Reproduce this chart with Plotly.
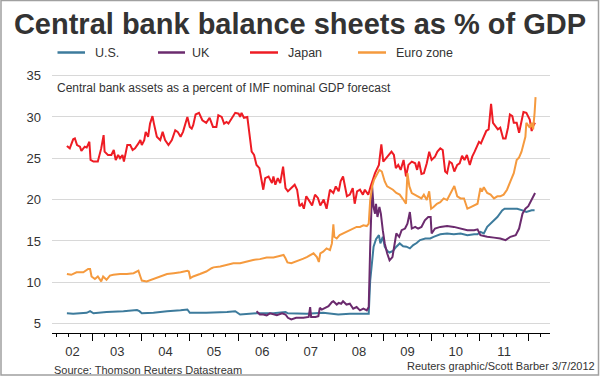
import datetime as dt
import plotly.graph_objects as go

# ---------------- data (decimal year, % of GDP) ----------------
us_t = [2002.46, 2002.59, 2002.87, 2002.94, 2003.01, 2003.28, 2003.63, 2003.91, 2003.96, 2004.01, 2004.25, 2004.53,
        2004.81, 2004.95, 2005.00, 2005.34, 2005.77, 2005.94, 2006.04, 2006.38, 2006.73, 2006.98, 2007.03, 2007.42,
        2007.76, 2007.90, 2008.07, 2008.31, 2008.70, 2008.73, 2008.77, 2008.80, 2008.85, 2008.91, 2008.94, 2008.99,
        2009.03, 2009.08, 2009.13, 2009.20, 2009.27, 2009.34, 2009.41, 2009.48, 2009.55, 2009.62, 2009.69, 2009.76,
        2009.87, 2009.97, 2010.04, 2010.18, 2010.32, 2010.46, 2010.60, 2010.74, 2010.88, 2010.95, 2011.01, 2011.08,
        2011.15, 2011.25, 2011.36, 2011.46, 2011.51, 2011.63, 2011.77, 2011.88, 2011.96, 2012.07, 2012.13]
us_v = [6.24, 6.2, 6.3, 6.5, 6.24, 6.4, 6.5, 6.64, 6.5, 6.24, 6.3, 6.5,
        6.6, 6.7, 6.3, 6.3, 6.4, 6.5, 6.1, 6.24, 6.24, 6.4, 6.24, 6.2,
        6.3, 6.2, 6.1, 6.2, 6.2, 10.2, 12.65, 14.3, 15.2, 15.7, 14.7, 15.5,
        14.3, 13.8, 13.6, 13.8, 14.3, 14.7, 14.35, 14.3, 14.1, 14.5, 14.75, 15.1,
        15.3, 15.3, 15.5, 15.8, 15.9, 15.8, 15.9, 15.7, 15.8, 15.8, 16.1, 15.9,
        16.7, 17.3, 17.9, 18.7, 18.9, 18.9, 18.9, 18.7, 18.5, 18.7, 18.7]

uk_t = [2006.38, 2006.45, 2006.52, 2006.59, 2006.66, 2006.73, 2006.80, 2006.91, 2006.98,
        2007.03, 2007.10, 2007.20, 2007.35, 2007.46, 2007.49, 2007.51, 2007.60, 2007.66, 2007.69, 2007.73, 2007.80,
        2007.87, 2007.94, 2007.97,
        2008.04, 2008.08, 2008.13, 2008.17, 2008.24, 2008.31, 2008.38, 2008.45, 2008.52, 2008.59, 2008.66, 2008.70,
        2008.73, 2008.77, 2008.80, 2008.83, 2008.85, 2008.88, 2008.92, 2008.95, 2008.99,
        2009.03, 2009.08, 2009.13, 2009.19, 2009.24, 2009.27, 2009.33, 2009.38, 2009.45, 2009.50, 2009.55, 2009.59,
        2009.66, 2009.72, 2009.79, 2009.86, 2009.93, 2009.98,
        2010.00, 2010.07, 2010.18, 2010.32, 2010.46, 2010.60, 2010.74, 2010.88, 2010.95,
        2011.01, 2011.15, 2011.29, 2011.42, 2011.53, 2011.63, 2011.74, 2011.81, 2011.88, 2011.94,
        2012.00, 2012.07, 2012.12, 2012.14]
uk_v = [6.5, 6.1, 6.1, 6.0, 6.24, 6.1, 6.0, 6.24, 6.1,
        5.7, 5.5, 5.7, 5.7, 5.8, 7.0, 5.8, 5.8, 5.9, 6.9, 6.7, 6.9, 7.1, 7.6, 7.7,
        7.3, 7.5, 7.4, 7.7, 7.3, 7.4, 6.8, 7.0, 6.6, 6.8, 6.6, 7.0, 14.3, 21.6, 19.1, 18.3, 19.5, 17.9, 19.1, 18.3, 16.3,
        14.7, 13.5, 12.65, 13.05, 15.1, 15.9, 15.5, 16.3, 16.5, 17.1, 18.5, 16.5, 16.7, 16.5, 16.7, 17.5, 17.9, 17.9,
        15.9, 16.5, 16.7, 16.8, 16.7, 16.5, 16.3, 16.3, 16.4,
        15.7, 15.5, 15.4, 15.3, 15.1, 15.5, 15.7, 16.5, 18.3, 18.9,
        19.2, 19.95, 20.6, 20.8]

japan_t = [2002.46, 2002.52, 2002.59, 2002.625, 2002.67, 2002.73, 2002.76, 2002.83, 2002.87, 2002.925,
           2002.95, 2003.01, 2003.10, 2003.14, 2003.17, 2003.22, 2003.24, 2003.31, 2003.38, 2003.43,
           2003.47, 2003.52, 2003.56, 2003.61, 2003.64, 2003.71, 2003.77, 2003.82, 2003.87, 2003.94,
           2003.98, 2004.01, 2004.06, 2004.09, 2004.14, 2004.18, 2004.23, 2004.26, 2004.32, 2004.39,
           2004.44, 2004.49, 2004.56, 2004.63, 2004.70, 2004.75, 2004.81, 2004.86, 2004.95, 2005.00,
           2005.04, 2005.07, 2005.12, 2005.19, 2005.26, 2005.34, 2005.41, 2005.48, 2005.55, 2005.59,
           2005.66, 2005.71, 2005.76, 2005.80, 2005.87, 2005.94, 2006.01, 2006.04, 2006.07, 2006.12,
           2006.19, 2006.23, 2006.28, 2006.33, 2006.38, 2006.44, 2006.49, 2006.52, 2006.56, 2006.63,
           2006.70, 2006.73, 2006.77, 2006.82, 2006.87, 2006.93, 2006.98, 2007.03, 2007.10, 2007.17,
           2007.22, 2007.27, 2007.32, 2007.36, 2007.41, 2007.46, 2007.53, 2007.59, 2007.65, 2007.70,
           2007.77, 2007.83, 2007.90, 2007.97, 2008.02, 2008.08, 2008.12, 2008.17, 2008.20, 2008.25,
           2008.31, 2008.37, 2008.41, 2008.46, 2008.52, 2008.58, 2008.62, 2008.69, 2008.74, 2008.78,
           2008.83, 2008.91, 2008.96, 2009.00, 2009.06, 2009.13, 2009.17, 2009.22, 2009.26, 2009.31,
           2009.36, 2009.42, 2009.47, 2009.52, 2009.59, 2009.66, 2009.70, 2009.74, 2009.79, 2009.84,
           2009.90, 2009.95, 2010.00, 2010.07, 2010.12, 2010.18, 2010.23, 2010.28, 2010.32, 2010.37,
           2010.42, 2010.47, 2010.53, 2010.58, 2010.63, 2010.68, 2010.73, 2010.79, 2010.84, 2010.89,
           2010.93, 2010.98, 2011.02, 2011.07, 2011.13, 2011.18, 2011.23, 2011.27, 2011.32, 2011.37,
           2011.42, 2011.48, 2011.53, 2011.58, 2011.62, 2011.67, 2011.70, 2011.76, 2011.81, 2011.86,
           2011.90, 2011.96, 2012.00, 2012.03, 2012.07, 2012.10, 2012.14]
japan_v = [26.5, 26.2, 27.3, 27.4, 26.6, 26.4, 25.9, 26.4, 26.3, 27.0,
           24.8, 24.6, 24.6, 25.4, 26.2, 27.8, 25.8, 25.4, 25.4, 26.0,
           24.8, 25.4, 25.0, 25.4, 24.6, 26.6, 26.6, 26.0, 26.2, 26.8,
           27.2, 26.6, 27.2, 28.2, 27.6, 29.2, 30.1, 29.2, 27.6, 27.2,
           28.2, 27.2, 26.6, 27.2, 28.4, 28.2, 27.6, 28.2, 30.0, 28.8,
           28.6, 29.0, 30.3, 30.5, 29.6, 29.3, 29.9, 28.8, 28.8, 30.2,
           30.0, 29.2, 29.4, 29.2, 29.8, 30.5, 30.4, 30.0, 30.5, 29.9,
           30.0, 28.4, 25.8, 25.4, 24.2, 23.8, 22.4, 21.2, 22.6, 22.8,
           22.0, 22.8, 21.8, 22.6, 22.0, 24.0, 21.4, 21.0, 21.4, 21.8,
           21.2, 19.2, 19.5, 18.9, 20.4, 20.0, 19.3, 20.6, 20.2, 19.3,
           20.0, 18.9, 21.2, 20.8, 21.6, 21.0, 22.2, 22.8, 21.8, 20.4,
           20.6, 21.4, 19.5, 21.0, 21.2, 20.6, 21.2, 20.6, 21.6, 22.4,
           23.2, 24.2, 26.7, 24.6, 25.0, 25.6, 25.8, 25.4, 23.8, 24.2,
           23.6, 24.8, 22.8, 24.2, 24.6, 24.4, 23.6, 24.6, 23.1, 23.2,
           24.4, 25.8, 24.8, 25.2, 25.8, 26.2, 26.0, 23.4, 23.2, 24.6,
           24.4, 23.4, 24.2, 24.4, 25.3, 24.8, 25.4, 24.2, 25.2, 25.8,
           26.4, 27.0, 26.8, 27.6, 28.3, 28.5, 31.6, 29.3, 28.9, 28.5,
           28.7, 27.4, 27.4, 28.7, 30.3, 30.1, 29.3, 29.3, 28.1, 29.5,
           30.6, 30.5, 30.1, 29.7, 28.3, 28.9, 29.3]

euro_t = [2002.46, 2002.55, 2002.66, 2002.80, 2002.90, 2002.94, 2002.97,
          2003.04, 2003.10, 2003.17, 2003.21, 2003.28, 2003.35, 2003.42, 2003.56, 2003.70, 2003.84, 2003.91, 2003.94,
          2003.98,
          2004.01, 2004.11, 2004.25, 2004.39, 2004.53, 2004.67, 2004.81, 2004.95, 2004.98,
          2005.01, 2005.07, 2005.21, 2005.34, 2005.45, 2005.49, 2005.63, 2005.77, 2005.90,
          2006.04, 2006.17, 2006.31, 2006.45, 2006.59, 2006.73, 2006.87, 2006.94, 2006.98,
          2007.02, 2007.10, 2007.20, 2007.28, 2007.35, 2007.42, 2007.49, 2007.56, 2007.63, 2007.67, 2007.70, 2007.76,
          2007.83, 2007.90, 2007.94, 2007.97, 2007.99,
          2008.04, 2008.10, 2008.17, 2008.24, 2008.31, 2008.38, 2008.45, 2008.52, 2008.59, 2008.66, 2008.70, 2008.73,
          2008.77, 2008.81, 2008.87, 2008.92, 2008.97,
          2009.00, 2009.03, 2009.08, 2009.13, 2009.20, 2009.27, 2009.34, 2009.42, 2009.47, 2009.50, 2009.54, 2009.59,
          2009.66, 2009.72, 2009.79, 2009.84, 2009.90, 2009.95, 2009.99,
          2010.04, 2010.11, 2010.18, 2010.25, 2010.32, 2010.39, 2010.45, 2010.47, 2010.53, 2010.60, 2010.67, 2010.74,
          2010.81, 2010.88, 2010.95,
          2011.01, 2011.04, 2011.08, 2011.15, 2011.22, 2011.29, 2011.36, 2011.42, 2011.49, 2011.56, 2011.63, 2011.70,
          2011.76, 2011.81, 2011.86, 2011.90, 2011.94, 2011.96,
          2012.00, 2012.03, 2012.07, 2012.10, 2012.13, 2012.15]
euro_v = [11.0, 10.9, 11.2, 11.2, 11.6, 11.6, 10.7,
          10.4, 10.7, 10.1, 10.7, 10.3, 10.8, 10.9, 11.0, 11.0, 11.1, 11.3, 11.4, 10.7,
          10.2, 10.1, 10.4, 10.7, 11.0, 11.1, 11.2, 11.4, 11.3,
          10.5, 10.7, 11.0, 11.3, 11.7, 11.8, 11.9, 12.1, 12.3,
          12.3, 12.5, 12.7, 12.8, 13.0, 13.0, 13.2, 13.3, 12.9,
          12.4, 12.3, 12.5, 12.65, 12.85, 13.05, 13.25, 13.5, 13.05, 12.45, 13.5, 13.7, 14.1, 13.9, 14.7, 17.0, 15.5,
          15.3, 15.7, 15.9, 16.1, 16.3, 16.5, 16.7, 16.7, 16.9, 16.8, 17.1, 19.95, 21.6, 22.4, 23.0, 23.6, 23.4,
          22.6, 22.2, 21.6, 21.4, 21.2, 20.8, 20.6, 19.95, 19.5, 23.2, 21.6, 20.8, 20.6, 20.4, 20.15, 20.6, 19.95,
          21.0, 18.9,
          19.1, 19.5, 19.7, 20.15, 19.95, 20.8, 21.6, 21.65, 20.4, 20.15, 20.15, 18.9, 19.1, 19.3, 19.5,
          21.4, 20.96, 21.5, 20.8, 20.6, 20.15, 20.4, 20.4, 20.6, 21.2, 22.2, 23.2, 24.8, 25.1, 25.8, 26.6, 27.6, 29.3,
          28.9, 28.7, 29.3, 28.5, 30.5, 32.4]

series_names = ["U.S.", "UK", "Japan", "Euro zone"]
series_colors = ["#3d7b9c", "#6b2b6e", "#ee1c24", "#f59a3e"]
y_ticks = [5, 10, 15, 20, 25, 30, 35]
x_label_years = [2002.576, 2003.5, 2004.5, 2005.5, 2006.5, 2007.5, 2008.5, 2009.5, 2010.5, 2011.5]
x_label_text = ["02", "03", "04", "05", "06", "07", "08", "09", "10", "11"]
title_text = "Central bank balance sheets as % of GDP"
subtitle_text = "Central bank assets as a percent of IMF nominal GDP forecast"
source_text = "Source: Thomson Reuters Datastream"
credit_text = "Reuters graphic/Scott Barber 3/7/2012"


def to_date(t):
    year = int(t)
    start = dt.datetime(year, 1, 1)
    end = dt.datetime(year + 1, 1, 1)
    return start + (end - start) * (t - year)


FONT = "Liberation Sans, Arial, sans-serif"
W, H = 600, 376
ML, MR, MT, MB = 52, 50, 74, 43
PW, PH = W - ML - MR, H - MT - MB
X_RANGE = [to_date(2002.152), to_date(2012.448)]


def px_x(px):
    return (px - ML) / PW


def px_y(py):
    return (H - MB - py) / PH


fig = go.Figure()
all_series = [(us_t, us_v), (uk_t, uk_v), (japan_t, japan_v), (euro_t, euro_v)]
for (ts, vs), name, col in zip(all_series, series_names, series_colors):
    fig.add_trace(go.Scatter(
        x=[to_date(t) for t in ts], y=vs, mode="lines", name=name,
        line=dict(color=col, width=2), showlegend=False, hoverinfo="skip"))

# invisible helper trace on the label axis (year labels centred between year ticks)
fig.add_trace(go.Scatter(x=[to_date(x_label_years[0])], y=[None], xaxis="x2",
                         mode="lines", showlegend=False, hoverinfo="skip"))

fig.update_layout(
    width=W, height=H,
    margin=dict(l=ML, r=MR, t=MT, b=MB, autoexpand=False),
    paper_bgcolor="white", plot_bgcolor="white",
    showlegend=False,
    title=dict(text=title_text, x=0.5, xref="container", xanchor="center",
               y=1 - 24 / H, yref="container", yanchor="middle",
               font=dict(family=FONT, size=29, color="#333333", weight="bold")),
    xaxis=dict(type="date", range=X_RANGE,
               tick0="2002-01-01", dtick="M12", showticklabels=False,
               ticks="outside", ticklen=7, tickwidth=1, tickcolor="#000000",
               minor=dict(dtick="M3", ticks="outside", ticklen=3, tickwidth=1, tickcolor="#000000", showgrid=False),
               showline=True, linecolor="#000000", linewidth=1,
               showgrid=False, zeroline=False),
    xaxis2=dict(type="date", range=X_RANGE, overlaying="x", side="bottom", anchor="y",
                tickvals=[to_date(t) for t in x_label_years], ticktext=x_label_text,
                ticks="", ticklabelstandoff=9, showline=False, showgrid=False, zeroline=False,
                tickfont=dict(family=FONT, size=13, color="#333333")),
    yaxis=dict(range=[3.86, 35.2], tickvals=y_ticks, ticks="", ticklabelstandoff=10,
               showgrid=True, gridcolor="#d8d8d8", gridwidth=1, zeroline=False, showline=False,
               tickfont=dict(family=FONT, size=13, color="#333333")),
)

# legend: colour sample + name
legend_sample_px = [(57.5, 85), (158, 185), (250, 278), (358, 386)]
legend_text_px = [93, 190, 286, 394]
for name, col, (s0, s1), tx in zip(series_names, series_colors, legend_sample_px, legend_text_px):
    fig.add_shape(type="line", xref="paper", yref="paper",
                  x0=px_x(s0), x1=px_x(s1), y0=px_y(52.5), y1=px_y(52.5),
                  line=dict(color=col, width=2.5))
    fig.add_annotation(text=name, xref="paper", yref="paper", x=px_x(tx), y=px_y(52.5),
                       xanchor="left", yanchor="middle", showarrow=False,
                       font=dict(family=FONT, size=12.5, color="#333333"))

fig.add_annotation(text=subtitle_text, xref="paper", yref="paper",
                   x=px_x(55), y=px_y(88), xanchor="left", yanchor="middle",
                   showarrow=False, font=dict(family=FONT, size=12, color="#333333"))
fig.add_annotation(text=source_text, xref="paper", yref="paper",
                   x=0, y=px_y(370), xanchor="left", yanchor="middle",
                   showarrow=False, font=dict(family=FONT, size=11, color="#333333"))
fig.add_annotation(text=credit_text, xref="paper", yref="paper",
                   x=px_x(597), y=px_y(366), xanchor="right", yanchor="middle",
                   showarrow=False, font=dict(family=FONT, size=11, color="#333333"))

# outer grey frame of the graphic
fig.add_shape(type="rect", xref="paper", yref="paper",
              x0=px_x(1), x1=px_x(598.5), y0=px_y(375), y1=px_y(0.5),
              line=dict(color="#a0a0a0", width=1.5), fillcolor="rgba(0,0,0,0)", layer="above")

fig.write_html("out.html", config={"displayModeBar": False},
               post_script="document.body.style.margin='0';")
